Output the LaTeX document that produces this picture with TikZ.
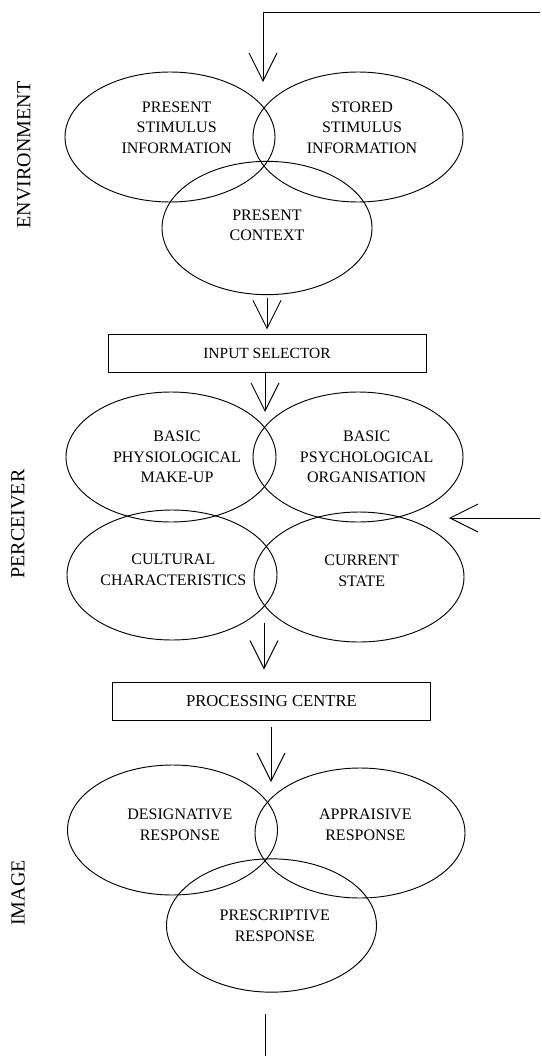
\documentclass[tikz,border=0pt]{standalone}
\usepackage{fontspec}
\setmainfont{Liberation Serif}
\usetikzlibrary{shapes.geometric,arrows.meta}
\tikzset{
    ring/.style={draw, ellipse, inner sep=0pt, minimum width=157.5pt, minimum height=97.5pt},
    txt/.style={align=center, inner sep=0pt, font=\fontsize{12}{15.5}\selectfont},
    box/.style={draw, rectangle, inner sep=0pt, minimum width=238.5pt, minimum height=28pt},
    side/.style={rotate=90, font=\fontsize{15}{18}\selectfont},
    flow/.style={-{Straight Barb[length=21pt, width=21pt]}}
}
\begin{document}
\begin{tikzpicture}[x=0.75pt, y=-0.75pt, line width=0.7pt]
            \useasboundingbox (0,0) rectangle (542,1056);
            \node[side] (env) at (24,155) {ENVIRONMENT};
            \node[side] (perc) at (18,524) {PERCEIVER};
            \node[side] (img) at (18,893) {IMAGE};
            \node[ring, label={[txt, shift={(5pt,7pt)}]center:{PRESENT\\STIMULUS\\INFORMATION}}] (psi) at (170,137) {};
            \node[ring, label={[txt, shift={(3pt,7pt)}]center:{STORED\\STIMULUS\\INFORMATION}}] (ssi) at (358,137) {};
            \node[ring, minimum height=100pt, label={[txt, shift={(0pt,2pt)}]center:{PRESENT\\CONTEXT}}] (ctx) at (267,228) {};
            \node[box, font=\fontsize{11.6}{13}\selectfont] (sel) at (267,353.5) {INPUT SELECTOR};
            \node[ring, label={[txt, shift={(4.5pt,0pt)}]center:{BASIC\\PHYSIOLOGICAL\\MAKE-UP}}] (phys) at (171,457) {};
            \node[ring, label={[txt, shift={(6.5pt,0pt)}]center:{BASIC\\PSYCHOLOGICAL\\ORGANISATION}}] (psych) at (358,457) {};
            \node[ring, label={[txt, shift={(1pt,4pt)}]center:{CULTURAL\\CHARACTERISTICS}}] (cult) at (172,575) {};
            \node[ring, label={[txt, shift={(2pt,4.5pt)}]center:{CURRENT\\STATE}}] (state) at (359,577) {};
            \node[box, minimum height=28.5pt, font=\fontsize{12.5}{15}\selectfont] (proc) at (271.5,701) {PROCESSING CENTRE};
            \node[ring, label={[txt, shift={(5.5pt,4pt)}]center:{DESIGNATIVE\\RESPONSE}}] (desig) at (172.5,830) {};
            \node[ring, label={[txt, shift={(4pt,6pt)}]center:{APPRAISIVE\\RESPONSE}}] (appr) at (360,833) {};
            \node[ring, minimum height=100pt, label={[txt, shift={(2.5pt,0pt)}]center:{PRESCRIPTIVE\\RESPONSE}}] (presc) at (271.5,925.5) {};
            \coordinate (fbtop) at (540,12);
            \coordinate (in1) at (263,82);
            \coordinate (in2) at (265,412);
            \coordinate (out3) at (264,623);
            \coordinate (in4) at (271,782);
            \coordinate (fbright) at (540,518);
            \coordinate (in5) at (449,518);
            \coordinate (exit) at (265,1056);
            \draw[flow] (fbtop) -| (in1);
            \draw[flow, shorten <=2pt, shorten >=3.75pt] (ctx.south) -- (ctx.south |- sel.north);
            \draw[flow] (sel.south -| in2) -- (in2);
            \draw[flow, shorten >=9pt] (out3) -- (out3 |- proc.north);
            \draw[flow, shorten <=5pt] (proc.south -| in4) -- (in4);
            \draw[flow] (fbright) -- (in5);
            \draw[shorten <=15.75pt] (exit |- presc.south) -- (exit);
        \end{tikzpicture}
\end{document}
